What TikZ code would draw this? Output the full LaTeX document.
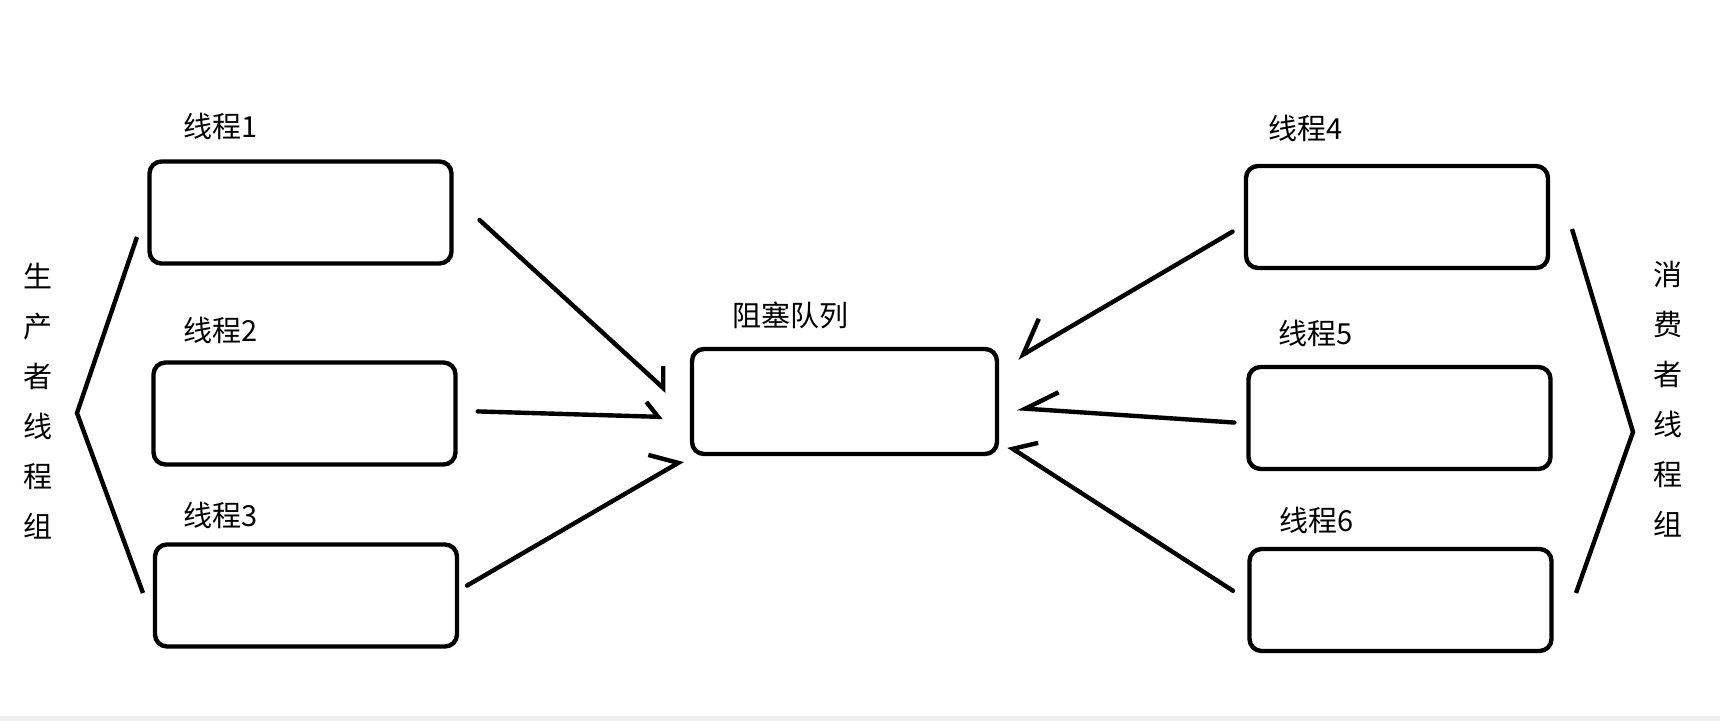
\documentclass[tikz,border=0pt]{standalone}
\usepackage{fontspec}
\setmainfont{Noto Sans CJK SC}
\usetikzlibrary{arrows.meta}
\definecolor{stripgray}{RGB}{240,240,240}
\tikzstyle{thread} = [draw,line width=2.2pt,rounded corners=6pt,minimum width=151pt,minimum height=51pt]
\tikzstyle{feed} = [line width=2.2pt,line cap=round]
\tikzset{barbL/.style 2 args={-{Straight Barb[left,angle=#1:#2]}},
  barbR/.style 2 args={-{Straight Barb[right,angle=#1:#2]}}}

\begin{document}
\begin{tikzpicture}[x=.5pt,y=-.5pt,font=\fontsize{14.5pt}{17pt}\selectfont]
      \useasboundingbox (0,0) rectangle (1720,721);
      \fill[stripgray] (0,716) rectangle (1720,721);
      % threads
      \foreach \n/\x/\y in {1/300.5/212.5,2/304.5/413.5,3/306/595.5,4/1397/217,5/1399.5/418,6/1400.5/600}
        \node[thread] (t\n) at (\x,\y) {};
      \node[thread,minimum width=152.5pt,minimum height=52.5pt] (q) at (844.5,401.5) {};
      \foreach \n/\x/\y in {1/220.5/126.5,2/220.5/330,3/220.5/515.5,4/1305.5/128.5,5/1316/333.5,6/1317/520}
        \node[inner sep=0] (l\n) at (\x,\y) {线程\n};
      \node[inner sep=0] (lq) at (790,315) {阻塞队列};
      % producer side
      \draw[feed,barbL={95}{11pt},shorten <=17.5pt,shorten >=15.5pt] (t1.6) -- (q.184);
      \draw[feed,barbL={100}{9.5pt},shorten <=10pt,shorten >=13.5pt] (t2.1) -- (q.186);
      \draw[feed,barbL={90}{15.5pt},shorten <=4.5pt,shorten >=4pt] (t3.2) -- (q.south west);
      % consumer side
      \draw[feed,barbR={72}{19.5pt},shorten <=6.5pt,shorten >=10.5pt] (t4.183) -- (q.12);
      \draw[feed,barbR={60}{18.5pt},shorten <=6pt,shorten >=9pt] (t5.182) -- (q.358);
      \draw[feed,barbR={92}{13pt},shorten <=8.5pt,shorten >=5.5pt] (t6.west) -- (q.346);
      % groups
      \draw[feed,line cap=butt] (137,237)--(77,413)--(143,593);
      \draw[feed,line cap=butt] (1572,229)--(1633,432)--(1576,593);
      \node[align=center,inner sep=0,font=\fontsize{14.5pt}{25pt}\selectfont] (pg) at (38,401) {生\\产\\者\\线\\程\\组};
      \node[align=center,inner sep=0,font=\fontsize{14.5pt}{25pt}\selectfont] (cg) at (1668,399.5) {消\\费\\者\\线\\程\\组};
    \end{tikzpicture}
\end{document}
